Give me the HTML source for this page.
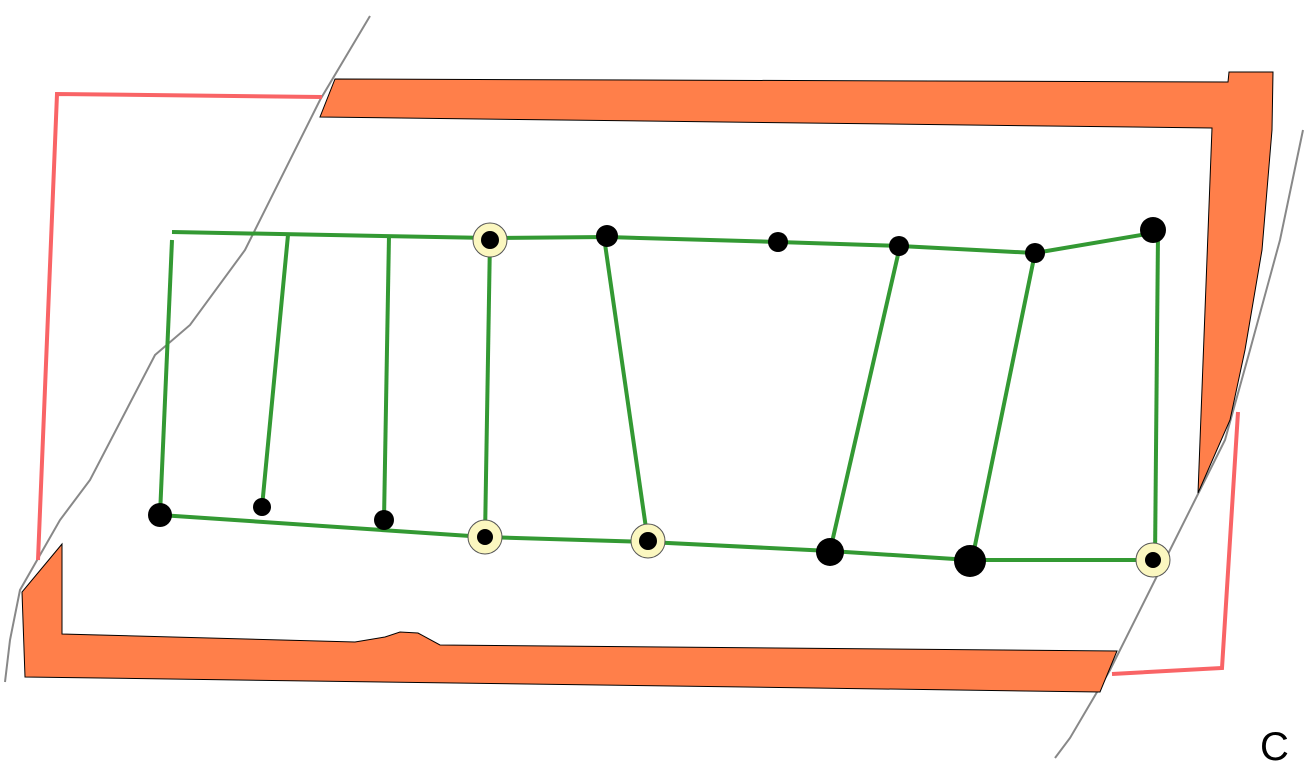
<!DOCTYPE html>
<html><head><meta charset="utf-8"><style>
html,body{margin:0;padding:0;background:#fff;}
svg{display:block;}
text{font-family:"Liberation Sans",sans-serif;}
</style></head><body>
<svg id="map" width="1315" height="776" viewBox="0 0 1315 776">
  <polyline points="370,16 320,100 245,250 190,325 155,355 90,480 60,520 20,590 10,640 5,682" fill="none" stroke="#888" stroke-width="2"/>
  <polyline points="1303,130 1280,240 1250,350 1225,440 1205,480 1160,570 1110,670 1070,738 1055,758" fill="none" stroke="#888" stroke-width="2"/>
  <polyline points="322,97 57,94 38,560" fill="none" stroke="#f96466" stroke-width="4"/>
  <polyline points="1238,412 1222,668 1112,674" fill="none" stroke="#f96466" stroke-width="4"/>
  <polygon points="335,79 1228,82 1229,72 1273,72 1272,130 1262,250 1245,350 1230,420 1198,493 1212,128 320,117" fill="#ff7f4a" stroke="#000" stroke-width="1"/>
  <polygon points="62,544 22,592 25,677 1100,692 1117,651 440,645 418,633 400,632 385,637 355,642 62,634" fill="#ff7f4a" stroke="#000" stroke-width="1"/>
  <g id="net"></g>
  <text x="1260" y="760" font-size="40" fill="#000">C</text>
</svg>
<script>
const topLine=[[172,232],[490,238],[607,237],[778,242],[900,246],[1035,253],[1153,233]];
const bottomLine=[[160,515],[485,537],[648,542],[830,551],[970,560],[1155,560]];
const links=[[[172,240],[160,515]],[[288,235],[262,507]],[[389,235],[384,520]],[[490,238],[485,537]],[[604,237],[648,542]],[[900,246],[830,551]],[[1035,253],[972,560]],[[1158,233],[1155,560]]];
const nodes=[[490,240,9,1],[607,236,11,0],[778,242,10,0],[899,246,10,0],[1035,253,10,0],[1153,230,13,0],[160,515,12,0],[262,507,9,0],[384,520,10,0],[485,537,8,1],[648,541,9,1],[830,552,14,0],[970,561,16,0],[1153,560,8,1]];
const NS="http://www.w3.org/2000/svg",g=document.getElementById('net');
function mk(t,a){const e=document.createElementNS(NS,t);for(const k in a)e.setAttribute(k,a[k]);g.appendChild(e);return e;}
[topLine,bottomLine].forEach((l,i)=>{
  const e=mk('polyline',{points:l.map(p=>p.join(',')).join(' '),fill:'none',stroke:'#339933','stroke-width':4});
  
  
});
links.forEach(l=>{
  const e=mk('line',{x1:l[0][0],y1:l[0][1],x2:l[1][0],y2:l[1][1],stroke:'#339933','stroke-width':4});
  
  
});
nodes.forEach(n=>{
  if(n[3]){
    const h=mk('circle',{cx:n[0],cy:n[1],r:17,fill:'#fbf7c0',stroke:'#555','stroke-width':1});
    
    
  }
  const c=mk('circle',{cx:n[0],cy:n[1],r:n[2],fill:'#000'});
  
  
});
</script>
</body></html>
